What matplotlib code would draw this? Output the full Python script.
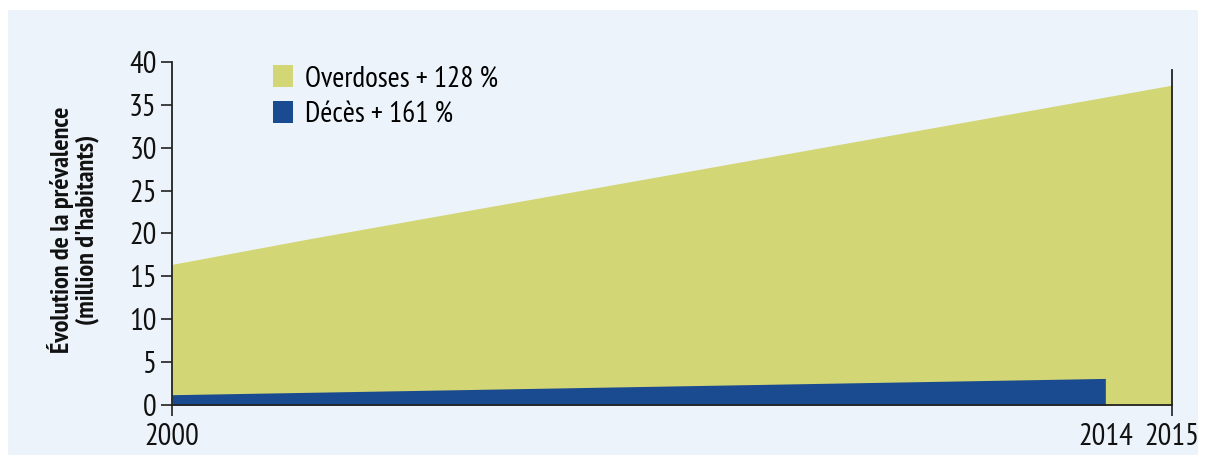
import matplotlib.pyplot as plt
from matplotlib.patches import Rectangle, Patch

years_overdoses = [2000, 2002, 2015]
overdoses = [16.4, 19.3, 37.3]
years_deces = [2000, 2014]
deces = [1.2, 3.1]
x_ticks = [2000, 2014, 2015]
y_ticks = [0, 5, 10, 15, 20, 25, 30, 35, 40]
legend_labels = ['Overdoses + 128 %', 'Décès + 161 %']

green = '#d3d675'
blue = '#1a4a8f'
bg = '#edf3fa'

plt.rcParams['font.family'] = ['PT Sans Narrow', 'Open Sans Condensed',
                               'Fira Sans Condensed', 'Roboto Condensed',
                               'Archivo Narrow', 'DejaVu Sans']

fig = plt.figure(figsize=(12.06, 4.63), dpi=100)
fig.patch.set_facecolor('white')
panel = Rectangle((8 / 1206, 8 / 463), 1190 / 1206, 445 / 463,
                  transform=fig.transFigure, facecolor=bg,
                  edgecolor='none', zorder=-10)
fig.add_artist(panel)

ax = fig.add_axes([172 / 1206, 1 - 405 / 463, 1000 / 1206, 343 / 463])
ax.set_facecolor('none')
ax.set_zorder(5)

ax.fill_between(years_overdoses, overdoses, 0, color=green, linewidth=0)
ax.fill_between(years_deces, deces, 0, color=blue, linewidth=0)

ax.set_xlim(2000, 2015)
ax.set_ylim(0, 40)
ax.set_xticks(x_ticks)
ax.set_yticks(y_ticks)
ax.tick_params(axis='both', labelsize=22, length=8, width=1.2, colors='#222222',
               labelcolor='#111111')
ax.tick_params(axis='x', pad=5)
ax.tick_params(axis='y', pad=3)
# pas de trait de graduation pour 2014
ax.xaxis.get_major_ticks()[1].tick1line.set_visible(False)

ax.spines['top'].set_visible(False)
for s in ['left', 'bottom', 'right']:
    ax.spines[s].set_linewidth(1.3)
    ax.spines[s].set_color('#222222')
ax.spines['right'].set_bounds(0, 39.1)

ax.set_ylabel("Évolution de la prévalence\n(million d'habitants)",
              fontsize=19, fontweight='bold', color='#111111',
              linespacing=1.1)
ax.yaxis.set_label_coords(-0.073, 0.51)

handles = [Patch(facecolor=green, edgecolor='none'),
           Patch(facecolor=blue, edgecolor='none')]
ax.legend(handles, legend_labels, loc='upper left',
          bbox_to_anchor=(0.081, 1.05), frameon=False, fontsize=21,
          handlelength=0.68, handleheight=0.75, handletextpad=0.4,
          labelspacing=0.3, borderpad=0.2)

fig.savefig('out.png', dpi=100, facecolor='white')
